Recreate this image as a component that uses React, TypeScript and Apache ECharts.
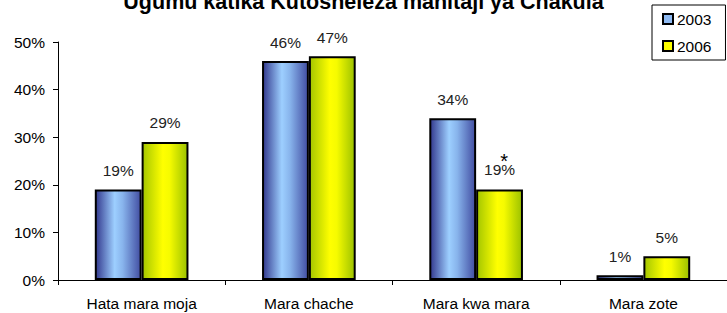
import React, { useEffect, useRef } from "react";
import * as echarts from "echarts";

const categories = ["Hata mara moja", "Mara chache", "Mara kwa mara", "Mara zote"];
const values2003 = [19, 46, 34, 1];
const values2006 = [29, 47, 19, 5];
const yTicks = [0, 10, 20, 30, 40, 50];
const seriesNames = ["2003", "2006"];
const titleText = "Ugumu katika Kutosheleza mahitaji ya Chakula";
const starredIndex2006 = 2;

const FONT = "Liberation Sans, Arial, sans-serif";
const FS = 15.5;

export default function App() {
  const ref = useRef<HTMLDivElement>(null);
  useEffect(() => {
    if (!ref.current) return;
    const chart = echarts.init(ref.current, null, { renderer: "svg" });
    const blue = new echarts.graphic.LinearGradient(0, 0, 1, 0, [
      { offset: 0, color: "#33398e" },
      { offset: 0.42, color: "#9dcfff" },
      { offset: 0.6, color: "#88b4ec" },
      { offset: 1, color: "#424ea2" },
    ]);
    const yellow = new echarts.graphic.LinearGradient(0, 0, 1, 0, [
      { offset: 0, color: "#a4c600" },
      { offset: 0.45, color: "#ffff00" },
      { offset: 0.6, color: "#f6fb00" },
      { offset: 1, color: "#9cc200" },
    ]);
    const labelBase = {
      show: true,
      position: "top" as const,
      distance: 11,
      color: "#222",
      fontFamily: FONT,
      fontSize: FS,
      formatter: (p: any) => p.value + "%",
    };
    chart.setOption({
      animation: false,
      backgroundColor: "#fff",
      title: {
        text: titleText,
        left: "center",
        top: -14,
        textStyle: { fontFamily: FONT, fontSize: 21.5, fontWeight: "bold", color: "#000" },
      },
      legend: {
        orient: "vertical",
        left: 652,
        top: 5,
        padding: [6, 14, 6, 10],
        itemGap: 11,
        itemWidth: 10,
        itemHeight: 10,
        borderColor: "#000",
        borderWidth: 1,
        textStyle: { fontFamily: FONT, fontSize: FS, color: "#000", padding: [0, 0, 0, -1] },
        data: [
          { name: seriesNames[0], icon: "rect", itemStyle: { color: "#8fbaf2", borderColor: "#000", borderWidth: 2 } },
          { name: seriesNames[1], icon: "rect", itemStyle: { color: "#ffff00", borderColor: "#000", borderWidth: 2 } },
        ],
      },
      grid: { left: 58, top: 42, right: -8, bottom: 33, containLabel: false },
      xAxis: {
        type: "category",
        data: categories,
        axisLine: { lineStyle: { color: "#000", width: 1 } },
        axisTick: { show: true, inside: false, length: 5, lineStyle: { color: "#000" } },
        axisLabel: { fontFamily: FONT, fontSize: FS, color: "#000", margin: 15 },
      },
      yAxis: {
        type: "value",
        min: yTicks[0],
        max: yTicks[yTicks.length - 1],
        interval: 10,
        splitLine: { show: false },
        axisLine: { show: true, lineStyle: { color: "#000", width: 1 } },
        axisTick: { show: true, length: 5, lineStyle: { color: "#000" } },
        axisLabel: { fontFamily: FONT, fontSize: FS, color: "#000", margin: 13, formatter: "{value}%" },
      },
      series: [
        {
          name: seriesNames[0],
          type: "bar",
          data: values2003,
          barGap: "0%",
          barCategoryGap: "44%",
          itemStyle: { color: blue, borderColor: "#000", borderWidth: 2 },
          label: labelBase,
        },
        {
          name: seriesNames[1],
          type: "bar",
          data: values2006.map((v, i) =>
            i === starredIndex2006
              ? {
                  value: v,
                  label: {
                    formatter: "{s|*}\n{v|" + v + "%}",
                    rich: {
                      s: { fontFamily: FONT, fontSize: 20, color: "#000", lineHeight: 0, padding: [0, 0, 0, 9] },
                      v: { fontFamily: FONT, fontSize: FS, color: "#222", lineHeight: 18 },
                    },
                  },
                }
              : v
          ),
          itemStyle: { color: yellow, borderColor: "#000", borderWidth: 2 },
          label: labelBase,
        },
      ],
    });
    return () => chart.dispose();
  }, []);
  return (
    <div
      ref={ref}
      style={{ position: "fixed", left: 0, top: 0, width: 727, height: 313 }}
    />
  );
}
